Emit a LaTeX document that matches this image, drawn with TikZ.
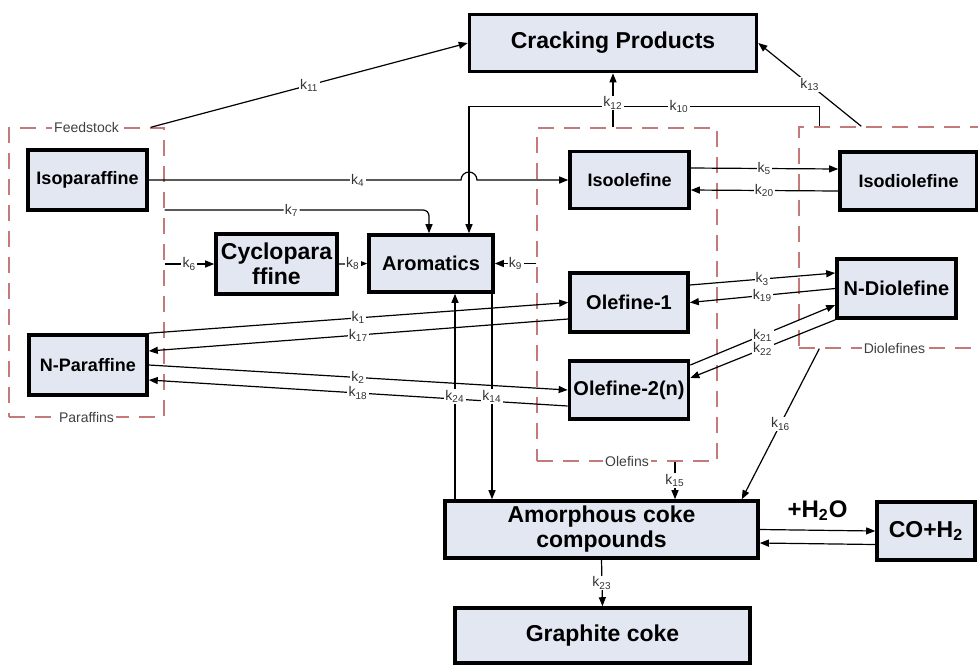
\documentclass[tikz,border=0pt]{standalone}
\usepackage{fontspec}
\setmainfont{Liberation Sans}
\usetikzlibrary{arrows.meta}
\definecolor{boxC}{HTML}{E2E7F2}
\definecolor{grpC}{HTML}{C47A7A}
\newcommand{\rate}[1]{k\textsubscript{#1}}
\tikzset{
  species/.style={draw, line width=1.8pt, fill=boxC, align=center, inner sep=2pt,
                  font=\bfseries\fontsize{9}{10}\selectfont},
  midsp/.style={species, font=\bfseries\fontsize{10}{11}\selectfont},
  bigsp/.style={species, font=\bfseries\fontsize{11.5}{12.5}\selectfont},
  group/.style={draw=grpC, line width=0.7pt, dash pattern=on 8pt off 5pt, inner sep=0pt},
  grplbl/.style={fill=white, font=\fontsize{7}{8}\selectfont, inner sep=1pt, text=black!75},
  conn/.style={-{Triangle[length=4.5pt,width=3.5pt]}, line width=0.6pt},
  klbl/.style={font=\fontsize{7}{8}\selectfont, fill=white, inner sep=0.6pt, text=black!80},
}

\begin{document}
\begin{tikzpicture}[x=0.5pt,y=-0.5pt]
\path[use as bounding box, clip] (0,0) rectangle (978,665);
% lumped groups (dashed)
\node[group, minimum width=77.5pt, minimum height=144.5pt] (feed) at (86.5,272.5) {};
\node[group, minimum width=90pt, minimum height=166.5pt] (olef) at (627,294.5) {};
\node[group, minimum width=95.5pt, minimum height=110.5pt] (diol) at (894.5,237.5) {};
\node[grplbl] (feedlbl) at (feed.north) {Feedstock};
\node[grplbl] (parlbl) at (feed.south) {Paraffins};
\node[grplbl] (oleflbl) at (olef.south) {Olefins};
\node[grplbl] (diollbl) at (diol.south) {Diolefines};

% species
\node[bigsp, minimum width=143.5pt, minimum height=28.5pt] (crack) at (613,43) {Cracking Products};
\node[species, minimum width=59.5pt, minimum height=30pt] (isopar) at (87.5,180) {Isoparaffine};
\node[bigsp, minimum width=60.5pt, minimum height=30pt] (cyclo) at (276.5,264) {Cyclopara\\ffine};
\node[midsp, minimum width=62pt, minimum height=28.5pt] (arom) at (431,263.5) {Aromatics};
\node[species, minimum width=59.5pt, minimum height=28.5pt] (isool) at (629.5,180) {Isoolefine};
\node[species, minimum width=68.5pt, minimum height=29pt] (isodi) at (908.5,181) {Isodiolefine};
\node[midsp, minimum width=59.5pt, minimum height=29.5pt] (ndi) at (896.5,288.5) {N-Diolefine};
\node[midsp, minimum width=59pt, minimum height=29.5pt] (ol1) at (629,302.5) {Olefine-1};
\node[midsp, minimum width=59pt, minimum height=29pt] (ol2) at (629,390) {Olefine-2(n)};
\node[species, minimum width=59pt, minimum height=30pt] (npar) at (88,365) {N-Paraffine};
\node[bigsp, minimum width=156.5pt, minimum height=28.5pt] (amor) at (601.5,529.5) {Amorphous coke\\compounds};
\node[bigsp, minimum width=49pt, minimum height=29pt] (coh) at (926,531) {CO+H\textsubscript{2}};
\node[bigsp, minimum width=147.5pt, minimum height=27.5pt] (graph) at (602.5,635.5) {Graphite coke};

% reactions
\draw[conn] ([xshift=-7pt]feed.north east) -- node[klbl]{\rate{11}} (crack.west);
\draw[conn] ([xshift=10.5pt]diol.north west) -- ++(0,-20) -| node[klbl,pos=0.2]{\rate{10}} ([xshift=19pt]arom.north);
\draw[conn] (olef.north -| crack.south) -- node[klbl,pos=0.45]{\rate{12}} (crack.south);
\draw[conn] ([xshift=31.5pt]diol.north west) -- node[klbl]{\rate{13}} (crack.east);
\draw[conn] (isopar.east) -- node[klbl,pos=0.67]{\rate{4}} ([xshift=15pt]arom.north |- isopar.east)
  arc[start angle=180, end angle=0, radius=4pt] -- (isool.west);
\draw[conn, rounded corners=3pt] (feed.east |- 0,210) -| node[klbl,pos=0.24]{\rate{7}} ([xshift=-1pt]arom.north);
\draw[conn] (feed.east |- cyclo.west) -- node[klbl]{\rate{6}} (cyclo.west);
\draw[conn] (cyclo.east) -- node[klbl]{\rate{8}} (arom.west);
\draw[conn] (olef.west |- arom.east) -- node[klbl]{\rate{9}} (arom.east);
\draw[conn] ([yshift=6pt]isool.east) -- node[klbl]{\rate{5}} ([yshift=6pt]isodi.west);
\draw[conn] ([yshift=-5pt]isodi.west) -- node[klbl]{\rate{20}} ([yshift=-5pt]isool.east);
\draw[conn] ([yshift=8.75pt]ol1.east) -- node[klbl]{\rate{3}} ([yshift=7.75pt]ndi.west);
\draw[conn] (ndi.west) -- node[klbl]{\rate{19}} (ol1.east);
\draw[conn] ([yshift=12.5pt]ol2.east) -- node[klbl]{\rate{21}} ([yshift=-8.25pt]ndi.west);
\draw[conn] (ndi.south west) -- node[klbl]{\rate{22}} ([yshift=6pt]ol2.east);
\draw[conn] (npar.north east) -- node[klbl]{\rate{1}} (ol1.west);
\draw[conn] ([yshift=-8.25pt]ol1.west) -- node[klbl]{\rate{17}} ([yshift=7pt]npar.east);
\draw[conn] (npar.east) -- node[klbl]{\rate{2}} (ol2.west);
\draw[conn] ([yshift=-8pt]ol2.west) -- node[klbl]{\rate{18}} ([yshift=-7.5pt]npar.east);
\draw[conn] ([xshift=12pt]arom.south |- amor.north) -- node[klbl]{\rate{24}} ([xshift=12pt]arom.south);
\draw[conn] ([xshift=30.5pt]arom.south) -- node[klbl]{\rate{14}} ([xshift=30.5pt]arom.south |- amor.north);
\draw[conn] ([xshift=24pt]olef.south) -- node[klbl]{\rate{15}} ([xshift=24pt]olef.south |- amor.north);
\draw[conn] ([xshift=10.5pt]diol.south west) -- node[klbl]{\rate{16}} ([xshift=-9pt]amor.north east);
\draw[conn] (amor.south) -- node[klbl]{\rate{23}} (graph.north);
\draw[conn] (amor.east) -- node[above=1pt, font=\bfseries\fontsize{12}{14}\selectfont]{+H\textsubscript{2}O} (coh.west);
\draw[conn] ([yshift=-6.75pt]coh.west) -- ([yshift=-6.75pt]amor.east);
\end{tikzpicture}
\end{document}
